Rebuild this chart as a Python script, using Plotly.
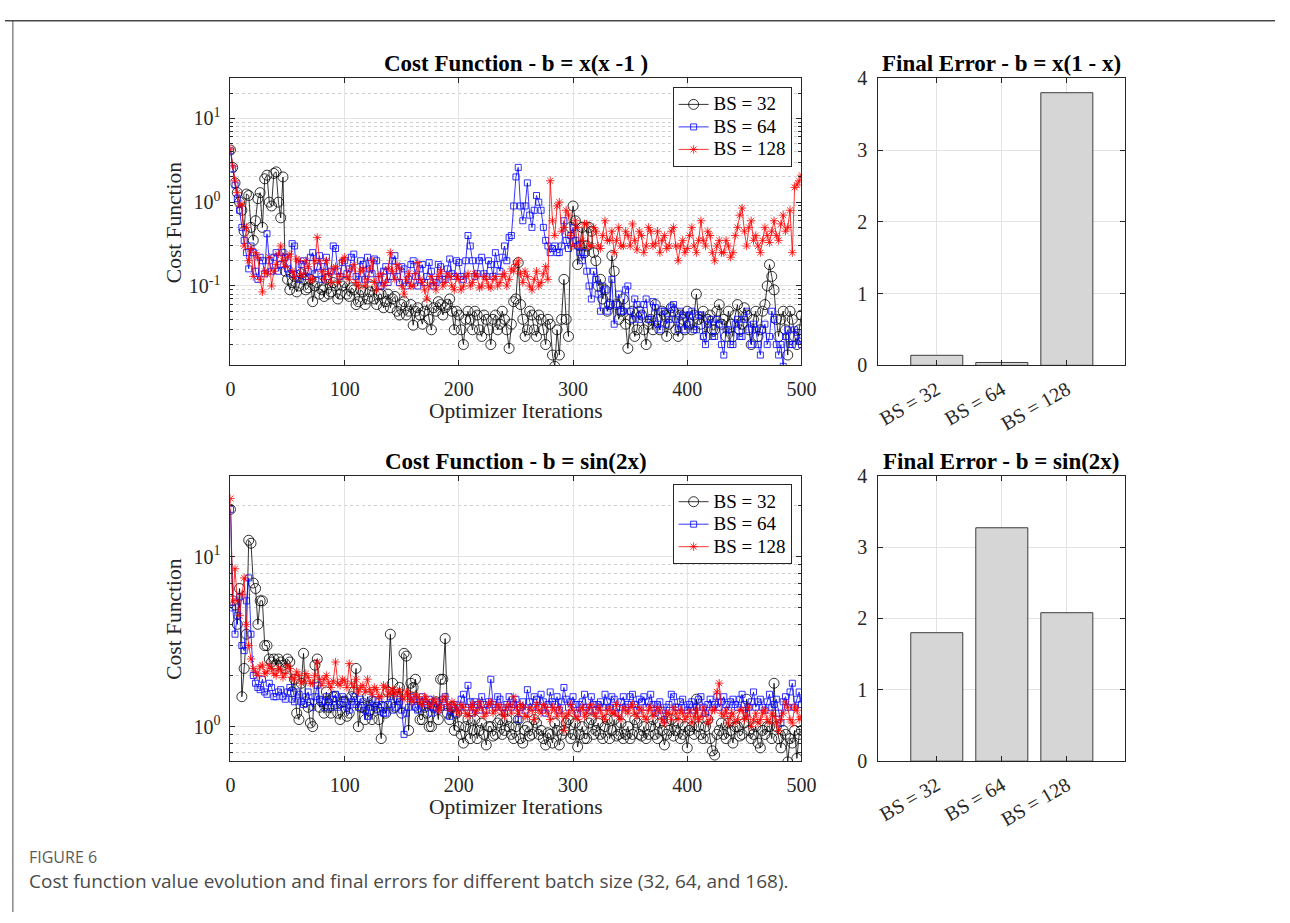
import plotly.graph_objects as go
import math

# ---------------- data ----------------
ITER = list(range(0, 501, 2))

TOP_BS32 = [
    4.2, 2.6, 1.7, 1.3, 1.0, 0.8, 0.45, 1.25, 1.2, 0.5, 0.35, 0.6, 1.1, 1.3, 0.5, 1.9, 2.1, 1.0, 0.9, 2.2,
    2.3, 1.0, 0.65, 2.0, 0.15, 0.12, 0.09, 0.11, 0.13, 0.085, 0.10, 0.14, 0.12, 0.09, 0.095, 0.12, 0.065, 0.1, 0.11, 0.08,
    0.09, 0.075, 0.12, 0.08, 0.085, 0.11, 0.10, 0.07, 0.08, 0.1, 0.11, 0.08, 0.075, 0.095, 0.09, 0.06, 0.065, 0.09, 0.085, 0.06,
    0.07, 0.085, 0.10, 0.07, 0.06, 0.08, 0.08, 0.055, 0.065, 0.08, 0.055, 0.07, 0.075, 0.05, 0.045, 0.06, 0.065, 0.045, 0.05, 0.06,
    0.034, 0.05, 0.055, 0.045, 0.035, 0.05, 0.06, 0.04, 0.03, 0.055, 0.05, 0.065, 0.06, 0.045, 0.055, 0.06, 0.07, 0.05, 0.03, 0.05,
    0.045, 0.03, 0.02, 0.04, 0.05, 0.04, 0.03, 0.05, 0.045, 0.03, 0.025, 0.045, 0.04, 0.03, 0.02, 0.04, 0.045, 0.03, 0.035, 0.05,
    0.04, 0.03, 0.018, 0.035, 0.065, 0.07, 0.19, 0.06, 0.04, 0.025, 0.03, 0.05, 0.045, 0.03, 0.025, 0.045, 0.04, 0.03, 0.02, 0.04,
    0.035, 0.015, 0.011, 0.03, 0.015, 0.04, 0.12, 0.04, 0.025, 0.5, 0.9, 0.6, 0.18, 0.3, 0.5, 0.25, 0.3, 0.5, 0.45, 0.25,
    0.2, 0.1, 0.12, 0.07, 0.09, 0.05, 0.06, 0.23, 0.15, 0.06, 0.04, 0.05, 0.07, 0.035, 0.018, 0.04, 0.05, 0.025, 0.03, 0.05,
    0.045, 0.03, 0.02, 0.035, 0.04, 0.03, 0.06, 0.04, 0.03, 0.05, 0.045, 0.025, 0.035, 0.055, 0.05, 0.03, 0.025, 0.045, 0.04, 0.03,
    0.05, 0.035, 0.03, 0.045, 0.08, 0.04, 0.035, 0.05, 0.025, 0.04, 0.045, 0.03, 0.03, 0.05, 0.06, 0.035, 0.04, 0.025, 0.05, 0.035,
    0.025, 0.045, 0.06, 0.03, 0.035, 0.055, 0.045, 0.03, 0.02, 0.04, 0.05, 0.025, 0.03, 0.05, 0.06, 0.1, 0.18, 0.13, 0.09, 0.04,
    0.025, 0.04, 0.05, 0.03, 0.015, 0.05, 0.04, 0.025, 0.02, 0.03, 0.045,
]
TOP_BS64 = [
    4.1, 2.5, 1.6, 1.1, 0.8, 0.5, 0.35, 0.25, 0.16, 0.3, 0.25, 0.15, 0.12, 0.22, 0.2, 0.14, 0.42, 0.2, 0.15, 0.22,
    0.25, 0.15, 0.18, 0.25, 0.22, 0.16, 0.14, 0.32, 0.3, 0.14, 0.12, 0.18, 0.2, 0.13, 0.15, 0.22, 0.25, 0.14, 0.17, 0.23,
    0.12, 0.17, 0.22, 0.13, 0.15, 0.3, 0.28, 0.15, 0.13, 0.19, 0.2, 0.14, 0.16, 0.22, 0.24, 0.13, 0.12, 0.2, 0.18, 0.12,
    0.22, 0.16, 0.14, 0.21, 0.2, 0.12, 0.1, 0.15, 0.17, 0.11, 0.13, 0.2, 0.23, 0.13, 0.11, 0.17, 0.16, 0.1, 0.12, 0.18,
    0.2, 0.13, 0.1, 0.16, 0.18, 0.11, 0.13, 0.19, 0.15, 0.1, 0.11, 0.18, 0.17, 0.12, 0.12, 0.16, 0.21, 0.14, 0.13, 0.2,
    0.19, 0.13, 0.12, 0.2, 0.4, 0.3, 0.2, 0.13, 0.14, 0.2, 0.22, 0.14, 0.13, 0.2, 0.18, 0.13, 0.25, 0.18, 0.15, 0.22,
    0.3, 0.2, 0.38, 0.4, 0.9, 2.0, 2.6, 0.9, 0.6, 0.9, 1.7, 0.7, 0.5, 0.8, 1.2, 1.0, 0.8, 0.5, 0.35, 0.3,
    0.25, 0.28, 0.3, 0.25, 0.25, 0.3, 0.6, 0.35, 0.28, 0.4, 0.5, 0.35, 0.3, 0.25, 0.2, 0.25, 0.15, 0.1, 0.07, 0.15,
    0.12, 0.08, 0.05, 0.1, 0.09, 0.05, 0.06, 0.12, 0.035, 0.06, 0.08, 0.05, 0.05, 0.09, 0.1, 0.05, 0.04, 0.07, 0.06, 0.04,
    0.045, 0.06, 0.07, 0.04, 0.04, 0.065, 0.055, 0.035, 0.03, 0.05, 0.05, 0.035, 0.04, 0.055, 0.06, 0.04, 0.03, 0.05, 0.045, 0.03,
    0.035, 0.045, 0.05, 0.03, 0.03, 0.045, 0.045, 0.025, 0.02, 0.035, 0.04, 0.025, 0.025, 0.04, 0.035, 0.02, 0.015, 0.03, 0.03, 0.02,
    0.02, 0.035, 0.04, 0.025, 0.025, 0.04, 0.05, 0.03, 0.02, 0.035, 0.03, 0.02, 0.015, 0.03, 0.035, 0.02, 0.025, 0.05, 0.04, 0.02,
    0.015, 0.02, 0.011, 0.025, 0.03, 0.02, 0.02, 0.03, 0.028, 0.022, 0.02,
]
TOP_BS128 = [
    4.3, 2.7, 1.8, 1.3, 0.9, 0.95, 0.3, 0.5, 0.2, 0.28, 0.13, 0.25, 0.22, 0.12, 0.085, 0.15, 0.14, 0.22, 0.1, 0.15,
    0.18, 0.24, 0.3, 0.2, 0.17, 0.22, 0.24, 0.15, 0.13, 0.21, 0.2, 0.13, 0.14, 0.2, 0.17, 0.12, 0.12, 0.2, 0.38, 0.2,
    0.15, 0.12, 0.2, 0.14, 0.11, 0.16, 0.17, 0.11, 0.13, 0.2, 0.22, 0.13, 0.12, 0.16, 0.18, 0.11, 0.1, 0.15, 0.16, 0.1,
    0.12, 0.16, 0.2, 0.11, 0.09, 0.13, 0.14, 0.1, 0.11, 0.16, 0.25, 0.15, 0.12, 0.18, 0.16, 0.1, 0.08, 0.12, 0.14, 0.1,
    0.1, 0.14, 0.19, 0.12, 0.11, 0.09, 0.07, 0.1, 0.13, 0.11, 0.09, 0.13, 0.15, 0.1, 0.11, 0.14, 0.13, 0.1, 0.09, 0.13,
    0.12, 0.09, 0.1, 0.13, 0.14, 0.1, 0.11, 0.14, 0.13, 0.095, 0.1, 0.13, 0.12, 0.1, 0.095, 0.12, 0.13, 0.1, 0.11, 0.13,
    0.14, 0.1, 0.12, 0.16, 0.15, 0.18, 0.2, 0.14, 0.11, 0.15, 0.13, 0.1, 0.09, 0.12, 0.15, 0.1, 0.11, 0.14, 0.17, 0.12,
    1.8, 0.6, 0.4, 0.9, 1.0, 0.45, 0.5, 0.8, 0.7, 0.4, 0.3, 0.6, 0.5, 0.3, 0.35, 0.55, 0.55, 0.3, 0.3, 0.5,
    0.45, 0.3, 0.28, 0.4, 0.6, 0.35, 0.35, 0.45, 0.25, 0.35, 0.5, 0.3, 0.3, 0.45, 0.4, 0.3, 0.55, 0.35, 0.27, 0.45,
    0.4, 0.25, 0.3, 0.5, 0.45, 0.3, 0.32, 0.45, 0.25, 0.35, 0.4, 0.28, 0.3, 0.45, 0.5, 0.3, 0.2, 0.3, 0.35, 0.25,
    0.28, 0.4, 0.5, 0.3, 0.25, 0.35, 0.6, 0.35, 0.3, 0.45, 0.4, 0.25, 0.2, 0.3, 0.35, 0.25, 0.25, 0.35, 0.3, 0.22,
    0.25, 0.4, 0.5, 0.7, 0.85, 0.45, 0.3, 0.5, 0.6, 0.35, 0.4, 0.3, 0.25, 0.35, 0.5, 0.4, 0.33, 0.45, 0.6, 0.4,
    0.35, 0.55, 0.7, 0.45, 0.5, 0.8, 0.25, 1.5, 1.6, 1.8, 2.1,
]

BOT_BS32 = [
    19, 5.5, 5.2, 4, 6.5, 1.5, 2.2, 3.5, 12.5, 12, 7, 6.5, 4, 5.5, 5.5, 3, 3, 2.5, 2.4, 2.5,
    2.3, 2.5, 2.4, 2.3, 2.2, 2.5, 2.4, 1.6, 1.9, 1.2, 1.1, 1.8, 2.7, 1.4, 1.3, 1.05, 1.0, 2.3, 2.5, 1.3,
    1.4, 1.2, 1.6, 1.3, 1.2, 1.5, 1.5, 1.2, 1.1, 1.4, 1.4, 1.15, 1.2, 1.5, 1.6, 2.2, 1.0, 1.3, 1.3, 1.1,
    1.5, 1.25, 1.1, 1.4, 1.3, 1.1, 0.85, 1.3, 1.2, 1.6, 3.5, 1.8, 1.3, 1.5, 1.7, 1.2, 2.7, 2.6, 0.95, 1.8,
    1.7, 1.9, 1.3, 1.1, 1.1, 1.3, 1.2, 1.0, 1.0, 1.3, 1.4, 1.1, 1.9, 1.9, 3.3, 1.2, 1.1, 1.3, 0.95, 1.2,
    1.0, 0.9, 0.8, 1.0, 1.1, 0.85, 0.95, 1.1, 0.85, 0.95, 1.05, 0.9, 0.78, 1.0, 1.0, 0.88, 0.9, 1.05, 1.1, 0.9,
    0.95, 1.1, 1.0, 0.9, 0.85, 1.0, 1.1, 0.85, 0.8, 0.95, 1.0, 0.88, 0.9, 1.1, 1.05, 0.9, 0.95, 0.85, 0.78, 0.92,
    0.9, 0.8, 1.05, 0.95, 0.78, 0.9, 0.95, 1.05, 1.1, 0.85, 0.9, 1.05, 0.76, 0.9, 1.0, 0.85, 0.85, 1.05, 1.1, 0.9,
    0.95, 1.05, 0.9, 0.85, 1.0, 1.1, 0.85, 0.95, 1.1, 0.88, 0.9, 1.05, 0.85, 0.9, 1.0, 0.85, 0.9, 1.1, 1.05, 0.9,
    0.88, 1.0, 0.85, 0.9, 1.0, 1.1, 0.9, 0.85, 1.05, 0.95, 0.78, 0.9, 0.95, 1.1, 0.88, 0.95, 1.05, 0.85, 0.9, 1.0,
    0.75, 0.95, 1.0, 0.9, 1.45, 1.0, 0.9, 0.85, 1.0, 1.1, 0.85, 0.72, 0.68, 0.9, 0.95, 1.05, 0.9, 0.85, 1.05, 0.95,
    0.8, 1.0, 1.0, 0.88, 0.9, 1.05, 1.45, 0.95, 0.85, 0.9, 1.0, 0.8, 0.75, 0.95, 0.9, 1.0, 1.0, 0.85, 1.8, 1.0,
    0.85, 0.75, 0.95, 0.9, 0.62, 0.85, 0.8, 0.95, 0.65, 0.9, 0.95,
]
BOT_BS64 = [
    19, 5.0, 3.5, 4.5, 5.8, 3.0, 2.8, 5.5, 7.5, 3.5, 2.0, 1.8, 1.7, 1.65, 1.9, 1.6, 1.55, 1.8, 1.7, 1.5,
    1.5, 1.6, 1.65, 1.5, 1.45, 1.6, 1.7, 1.45, 1.4, 1.6, 1.55, 1.4, 1.35, 1.5, 1.6, 1.4, 1.3, 1.5, 1.75, 1.45,
    1.4, 1.3, 1.5, 1.4, 1.3, 1.45, 1.55, 1.3, 1.35, 1.5, 1.45, 1.3, 1.25, 1.4, 1.5, 1.35, 1.3, 1.45, 1.4, 1.25,
    1.15, 1.3, 1.45, 1.3, 1.25, 1.4, 1.35, 1.2, 1.2, 1.35, 1.5, 1.25, 1.3, 1.45, 1.4, 1.25, 0.9, 1.2, 1.3, 1.5,
    1.45, 1.3, 1.25, 1.4, 1.5, 1.3, 1.35, 1.45, 1.2, 1.3, 1.4, 1.25, 1.3, 1.45, 1.5, 1.3, 1.15, 1.3, 1.35, 1.2,
    1.3, 1.45, 1.55, 1.3, 1.75, 1.4, 1.2, 1.4, 1.35, 1.25, 1.5, 1.35, 1.25, 1.4, 1.9, 1.35, 1.3, 1.5, 1.45, 1.3,
    1.2, 1.35, 1.5, 1.3, 1.35, 1.45, 1.1, 1.3, 1.4, 1.25, 1.65, 1.4, 1.3, 1.5, 1.45, 1.3, 1.55, 1.4, 1.2, 1.35,
    1.6, 1.4, 1.35, 1.5, 1.25, 1.4, 1.7, 1.45, 1.3, 1.4, 1.5, 1.35, 1.2, 1.35, 1.4, 1.55, 1.3, 1.25, 1.5, 1.35,
    1.25, 1.35, 1.4, 1.3, 1.55, 1.4, 1.3, 1.5, 1.45, 1.3, 1.2, 1.4, 1.5, 1.3, 1.35, 1.5, 1.55, 1.35, 1.25, 1.45,
    1.4, 1.5, 1.3, 1.4, 1.55, 1.35, 1.2, 1.35, 1.4, 1.25, 1.1, 1.3, 1.35, 1.55, 1.5, 1.3, 1.3, 1.4, 1.45, 1.3,
    1.25, 1.35, 1.4, 1.25, 1.3, 1.45, 1.5, 1.3, 1.2, 1.35, 1.45, 1.3, 1.35, 1.5, 1.3, 1.4, 1.5, 1.35, 1.25, 1.4,
    1.45, 1.35, 1.3, 1.45, 1.55, 1.35, 1.2, 1.3, 1.4, 1.6, 1.3, 1.4, 1.45, 1.3, 1.25, 1.4, 1.55, 1.3, 1.35, 1.45,
    1.2, 1.05, 1.4, 1.5, 1.3, 1.6, 1.8, 1.3, 1.45, 1.6, 1.35,
]
BOT_BS128 = [
    22, 5.5, 8.5, 5.5, 4.5, 6, 7.5, 4, 3.0, 2.5, 2.2, 2.1, 2.0, 2.25, 2.3, 2.05, 2.1, 2.3, 2.2, 2.05,
    2.0, 2.2, 2.15, 1.95, 2.05, 2.3, 2.2, 1.95, 1.9, 2.1, 2.0, 1.8, 1.85, 2.05, 1.95, 1.8, 1.8, 2.0, 2.4, 1.9,
    1.75, 1.9, 2.0, 1.8, 1.7, 1.85, 2.4, 1.8, 1.75, 1.9, 1.85, 1.7, 2.35, 1.8, 1.7, 1.9, 1.6, 1.7, 1.75, 1.6,
    1.9, 1.65, 1.55, 1.7, 1.65, 1.5, 1.5, 1.75, 1.7, 1.55, 1.6, 1.65, 1.55, 1.6, 1.65, 1.5, 1.45, 1.6, 1.55, 1.45,
    1.4, 1.55, 1.5, 1.4, 1.35, 1.5, 1.45, 1.35, 1.3, 1.45, 1.4, 1.25, 1.3, 1.45, 1.5, 1.35, 1.25, 1.4, 1.35, 1.25,
    1.2, 1.35, 1.3, 1.2, 1.15, 1.3, 1.35, 1.2, 1.25, 1.4, 1.3, 1.15, 1.2, 1.35, 1.4, 1.2, 1.25, 1.35, 1.3, 1.2,
    1.15, 1.3, 1.35, 1.2, 1.5, 1.3, 1.2, 1.35, 1.3, 1.15, 1.15, 1.3, 1.25, 1.1, 1.35, 1.25, 1.2, 1.35, 1.3, 1.2,
    1.1, 1.3, 1.25, 1.15, 1.3, 1.2, 0.95, 1.15, 1.2, 1.35, 1.25, 1.15, 1.1, 1.25, 1.3, 1.15, 1.2, 1.3, 1.35, 1.2,
    1.15, 1.3, 1.25, 1.15, 1.1, 1.25, 1.3, 1.2, 1.2, 1.35, 1.15, 1.1, 1.3, 1.25, 1.2, 1.3, 1.35, 1.2, 1.15, 1.3,
    1.25, 1.15, 1.1, 1.25, 1.3, 1.15, 1.2, 1.3, 1.25, 1.1, 1.05, 1.2, 1.2, 1.1, 1.3, 1.2, 1.1, 1.25, 1.2, 1.1,
    1.15, 1.25, 1.05, 1.15, 1.25, 1.1, 1.15, 1.3, 1.2, 1.05, 1.1, 1.25, 1.25, 1.6, 1.8, 1.2, 1.15, 1.25, 1.05, 1.15,
    1.2, 1.05, 1.1, 1.25, 1.25, 1.1, 1.15, 1.3, 1.0, 1.1, 1.2, 1.05, 1.1, 1.2, 1.25, 1.1, 1.05, 1.2, 1.15, 1.05,
    0.95, 1.1, 1.2, 1.4, 1.3, 1.1, 1.05, 1.3, 1.25, 1.1, 1.15,
]

SERIES_NAMES = ["BS = 32", "BS = 64", "BS = 128"]
BAR_LABELS = ["BS = 32", "BS = 64", "BS = 128"]
BAR_TOP = [0.14, 0.04, 3.80]
BAR_BOTTOM = [1.80, 3.27, 2.08]

TITLES = ["Cost Function - b = x(x -1 )", "Final Error - b = x(1 - x)",
          "Cost Function - b = sin(2x)", "Final Error - b = sin(2x)"]

for _s in (TOP_BS32, TOP_BS64, TOP_BS128, BOT_BS32, BOT_BS64, BOT_BS128):
    assert len(_s) == len(ITER), len(_s)

# ---------------- layout helpers ----------------
W, H = 1290, 923
def fx(px):
    return px / W
def fy(py):
    return 1 - py / H

LX = (229, 809)
RX = (887, 1138)
TY = (69, 363)
BY = (476, 768.5)

SERIF = "Liberation Serif"
AXC = "#262626"

fig = go.Figure()

styles = [
    dict(color="#000000", symbol="circle-open", size=10),
    dict(color="#0000ff", symbol="square-open", size=6),
    dict(color="#ff0000", symbol="asterisk-open", size=7),
]

for (xa, ya, leg, series) in [("x", "y", "legend", [TOP_BS32, TOP_BS64, TOP_BS128]),
                              ("x3", "y3", "legend2", [BOT_BS32, BOT_BS64, BOT_BS128])]:
    for name, vals, st in zip(SERIES_NAMES, series, styles):
        fig.add_trace(go.Scatter(
            x=ITER, y=vals, mode="lines+markers",
            name='<span style="font-size:19px">%s</span>' % name,
            xaxis=xa, yaxis=ya, legend=leg,
            line=dict(color=st["color"], width=0.8),
            marker=dict(symbol=st["symbol"], size=st["size"],
                        color=st["color"], line=dict(color=st["color"], width=0.8)),
        ))

for xa, ya, vals in [("x2", "y2", BAR_TOP), ("x4", "y4", BAR_BOTTOM)]:
    fig.add_trace(go.Bar(
        x=BAR_LABELS, y=vals, xaxis=xa, yaxis=ya, showlegend=False, width=0.8,
        marker=dict(color="#d6d6d6", line=dict(color="#3c3c3c", width=1)),
    ))

tickfont = dict(family=SERIF, size=20, color=AXC)
base = dict(showline=True, linecolor=AXC, linewidth=1, mirror="ticks",
            ticks="inside", ticklen=5, tickcolor=AXC, tickwidth=1,
            tickfont=tickfont, showgrid=True, gridcolor="#e3e3e3", gridwidth=1,
            zeroline=False, fixedrange=True)

def minor_vals(lo, hi):
    out = []
    for k in range(-3, 3):
        for m in range(2, 10):
            v = m * 10 ** k
            if lo < v < hi:
                out.append(v)
    return out

def log_axis(lo, hi, majors, domain):
    return dict(base, type="log", range=[math.log10(lo), math.log10(hi)], domain=domain,
                tickmode="array", tickvals=majors,
                ticktext=["10<sup>%d</sup>" % round(math.log10(v)) for v in majors],
                ticklabelstandoff=5,
                minor=dict(tickmode="array", tickvals=minor_vals(lo, hi), ticks="inside",
                           ticklen=3, tickcolor=AXC, showgrid=True,
                           gridcolor="#cfcfcf", griddash="dot", gridwidth=1))

xline = dict(base, range=[0, 500], tickmode="array", tickvals=[0, 100, 200, 300, 400, 500],
             ticklabelstandoff=6, domain=[fx(LX[0]), fx(LX[1])])
xbar = dict(base, type="category", range=[-0.9, 2.9], tickangle=-30,
            ticklabelstandoff=4, domain=[fx(RX[0]), fx(RX[1])])
ybar = lambda dom: dict(base, range=[0, 4], tickmode="array", tickvals=[0, 1, 2, 3, 4],
                        ticklabelstandoff=6, domain=dom)

legend_common = dict(xanchor="right", yanchor="top", bgcolor="white",
                     bordercolor=AXC, borderwidth=1,
                     font=dict(family=SERIF, size=15, color="#000000"),
                     tracegroupgap=0, itemwidth=30)

fig.update_layout(
    width=W, height=H, autosize=False,
    margin=dict(l=0, r=0, t=0, b=0),
    paper_bgcolor="white", plot_bgcolor="white",
    xaxis=dict(xline, anchor="y"),
    yaxis=dict(log_axis(0.0113, 30, [0.1, 1, 10], [fy(TY[1]), fy(TY[0])]), anchor="x"),
    xaxis2=dict(xbar, anchor="y2"),
    yaxis2=dict(ybar([fy(TY[1]), fy(TY[0])]), anchor="x2"),
    xaxis3=dict(xline, anchor="y3"),
    yaxis3=dict(log_axis(0.626, 30, [1, 10], [fy(BY[1]), fy(BY[0])]), anchor="x3"),
    xaxis4=dict(xbar, anchor="y4"),
    yaxis4=dict(ybar([fy(BY[1]), fy(BY[0])]), anchor="x4"),
    legend=dict(legend_common, x=fx(799), y=fy(78)),
    legend2=dict(legend_common, x=fx(799), y=fy(485)),
    showlegend=True,
)

ann = []
title_pos = [((LX[0] + LX[1]) / 2, 54), ((RX[0] + RX[1]) / 2, 54),
             ((LX[0] + LX[1]) / 2, 461), ((RX[0] + RX[1]) / 2, 461)]
for t, (px, py) in zip(TITLES, title_pos):
    ann.append(dict(text="<b>%s</b>" % t, x=fx(px), y=fy(py), xref="paper", yref="paper",
                    xanchor="center", yanchor="middle", showarrow=False,
                    font=dict(family=SERIF, size=23, color="#000000")))
for py in (410, 815):
    ann.append(dict(text="Optimizer Iterations", x=fx((LX[0] + LX[1]) / 2), y=fy(py),
                    xref="paper", yref="paper", xanchor="center", yanchor="middle",
                    showarrow=False, font=dict(family=SERIF, size=21.5, color=AXC)))
for py in ((TY[0] + TY[1]) / 2, (BY[0] + BY[1]) / 2):
    ann.append(dict(text="Cost Function", x=fx(172), y=fy(py), textangle=-90,
                    xref="paper", yref="paper", xanchor="center", yanchor="middle",
                    showarrow=False, font=dict(family=SERIF, size=21.5, color=AXC)))
ann.append(dict(text="FIGURE 6", x=fx(22), y=fy(867), xref="paper", yref="paper",
                xanchor="left", yanchor="middle", showarrow=False,
                font=dict(family="Open Sans", size=16, color="#5a5a5a")))
ann.append(dict(text="Cost function value evolution and final errors for different batch size (32, 64, and 168).",
                x=fx(22), y=fy(891), xref="paper", yref="paper",
                xanchor="left", yanchor="middle", showarrow=False,
                font=dict(family="Open Sans", size=19, color="#4a4a4a")))
fig.update_layout(annotations=ann)

fig.update_layout(shapes=[
    dict(type="line", xref="paper", yref="paper", x0=0, x1=1, y0=fy(10), y1=fy(10),
         line=dict(color="#4a4a4a", width=1.5)),
    dict(type="line", xref="paper", yref="paper", x0=fx(8), x1=fx(8), y0=0, y1=fy(10),
         line=dict(color="#4a4a4a", width=1)),
])

fig.write_html("out.html")
